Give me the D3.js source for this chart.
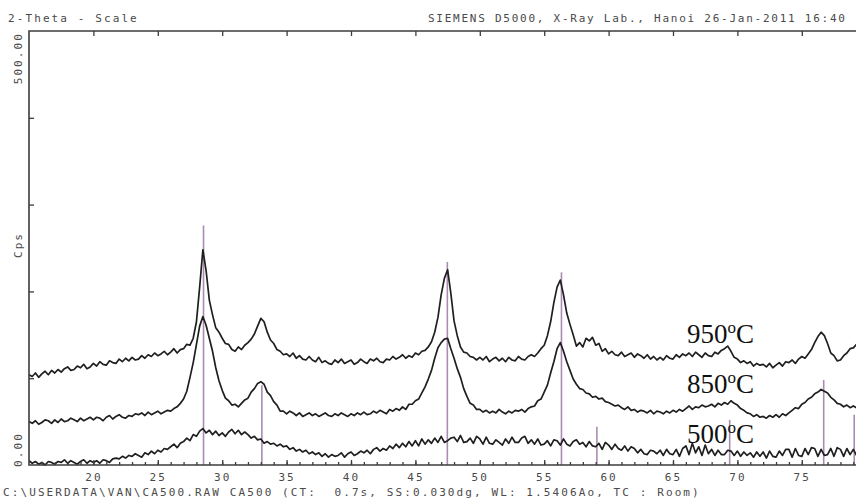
<!DOCTYPE html>
<html>
<head>
<meta charset="utf-8">
<script src="https://cdn.jsdelivr.net/npm/d3@7"></script>
<style>
  body { margin: 0; background: #fff; }
  svg { display: block; }
  .mono { font-family: "DejaVu Sans Mono", monospace; font-size: 11px; letter-spacing: 2.1px; fill: #4a4a4a; }
  .temp { font-family: "Liberation Serif", "Times New Roman", serif; font-size: 27px; fill: #111; }
</style>
</head>
<body>
<div id="container"></div>
<script>
// 2-theta grid of the scan: first angle and step (degrees)
let startAngle = 15;
let stepAngle = 0.25;

// counts per second, one value per step
let cps950 = [
  104, 102, 106, 101, 105, 108, 104, 109, 106, 110, 107, 111, 113, 109, 110, 114,
  112, 116, 111, 113, 117, 114, 119, 116, 115, 120, 118, 117, 122, 119, 123, 120,
  124, 121, 122, 126, 123, 127, 125, 129, 126, 128, 131, 127, 130, 134, 129, 133,
  134, 139, 138, 146, 165, 205, 248, 224, 190, 173, 158, 153, 146, 140, 139, 133,
  131, 136, 133, 138, 141, 145, 151, 160, 169, 165, 153, 144, 140, 133, 131, 127,
  128, 125, 129, 123, 126, 122, 121, 125, 121, 119, 124, 118, 120, 117, 116, 121,
  118, 122, 117, 119, 121, 116, 118, 122, 119, 117, 122, 120, 123, 119, 118, 122,
  121, 125, 122, 124, 127, 123, 126, 124, 129, 127, 131, 132, 136, 142, 153, 170,
  196, 215, 225, 198, 166, 149, 136, 130, 129, 125, 124, 121, 124, 121, 125, 119,
  122, 124, 120, 123, 119, 124, 121, 120, 125, 122, 121, 125, 127, 125, 129, 134,
  138, 149, 165, 187, 205, 213, 196, 175, 162, 150, 137, 141, 136, 146, 143, 147,
  138, 140, 131, 134, 128, 131, 127, 126, 130, 125, 127, 129, 124, 128, 126, 123,
  127, 122, 125, 121, 124, 121, 126, 123, 122, 127, 124, 128, 126, 129, 125, 130,
  127, 124, 129, 126, 125, 130, 128, 132, 134, 137, 131, 124, 122, 118, 120, 117,
  119, 114, 117, 115, 116, 113, 117, 112, 115, 118, 114, 119, 118, 121, 117, 122,
  125, 123, 128, 133, 141, 148, 153, 149, 140, 129, 126, 120, 121, 126, 129, 134,
  135, 139, 137, 141, 140
];

let cps850 = [
  50, 48, 51, 47, 49, 52, 51, 48, 52, 49, 53, 50, 51, 54, 52, 50,
  54, 51, 53, 55, 52, 55, 54, 51, 55, 57, 53, 56, 58, 55, 54, 57,
  56, 59, 58, 60, 57, 61, 58, 60, 62, 59, 61, 63, 62, 65, 67, 71,
  76, 85, 101, 118, 139, 160, 171, 161, 146, 131, 112, 97, 86, 77, 74, 69,
  70, 67, 71, 75, 77, 84, 88, 94, 96, 93, 84, 80, 73, 69, 62, 62,
  59, 62, 60, 57, 60, 56, 58, 60, 57, 59, 56, 58, 60, 57, 56, 59,
  57, 60, 58, 56, 59, 57, 60, 58, 61, 58, 59, 62, 60, 63, 61, 59,
  64, 62, 65, 63, 67, 64, 70, 70, 74, 76, 83, 90, 99, 109, 123, 135,
  141, 145, 146, 134, 123, 111, 101, 88, 79, 71, 69, 64, 64, 61, 63, 60,
  62, 60, 64, 61, 59, 62, 60, 63, 62, 64, 61, 65, 67, 68, 74, 76,
  84, 92, 106, 119, 134, 141, 131, 119, 109, 99, 93, 88, 87, 83, 82, 78,
  79, 76, 77, 73, 72, 70, 68, 69, 66, 64, 67, 63, 64, 61, 63, 62,
  60, 63, 59, 62, 61, 59, 62, 60, 63, 61, 64, 62, 65, 68, 64, 67,
  66, 69, 67, 68, 70, 67, 71, 69, 72, 70, 74, 71, 69, 65, 63, 60,
  59, 56, 58, 55, 56, 54, 57, 55, 58, 55, 59, 57, 60, 63, 66, 65,
  70, 72, 76, 78, 82, 84, 87, 85, 83, 78, 75, 71, 70, 67, 69, 66,
  68, 66, 68, 67, 67
];

let cps500 = [
  5, 2, 4, 1, 3, 0, 4, 3, 1, 4, 3, 6, 2, 5, 3, 1,
  4, 6, 2, 5, 3, 5, 2, 6, 5, 3, 7, 8, 7, 10, 8, 11,
  10, 13, 11, 9, 14, 12, 16, 13, 17, 15, 19, 18, 21, 24, 20, 25,
  27, 31, 28, 35, 33, 39, 42, 37, 40, 35, 39, 34, 37, 33, 38, 41,
  36, 40, 35, 38, 35, 31, 33, 29, 30, 25, 27, 24, 25, 22, 24, 21,
  22, 18, 20, 16, 18, 15, 17, 13, 15, 12, 14, 10, 13, 9, 12, 10,
  11, 14, 9, 13, 15, 11, 13, 16, 14, 17, 13, 18, 20, 16, 19, 17,
  22, 19, 24, 20, 25, 21, 27, 22, 28, 22, 30, 24, 29, 25, 31, 26,
  33, 26, 28, 31, 32, 27, 34, 26, 27, 31, 25, 33, 30, 24, 32, 25,
  24, 29, 26, 23, 30, 25, 32, 26, 26, 31, 33, 25, 29, 24, 30, 23,
  24, 28, 22, 29, 28, 23, 30, 24, 22, 27, 29, 24, 26, 21, 27, 22,
  21, 25, 18, 26, 23, 18, 24, 19, 17, 22, 16, 21, 19, 14, 18, 13,
  12, 17, 16, 13, 17, 11, 18, 13, 12, 18, 10, 19, 22, 12, 25, 14,
  21, 11, 23, 13, 18, 11, 17, 12, 12, 17, 16, 11, 16, 10, 15, 11,
  14, 9, 15, 10, 15, 8, 16, 10, 9, 16, 11, 18, 18, 9, 19, 11,
  10, 19, 12, 20, 19, 10, 18, 11, 12, 19, 10, 20, 18, 10, 19, 12,
  18, 11, 19, 13, 15
];

// reference pattern sticks (2-theta, cps)
let refAngles = [28.55, 33.08, 47.48, 56.34, 59.09, 69.4, 76.7, 79.07];
let refCps = [276, 92, 234, 222, 44, 52, 98, 58];

let xTickValues = [20, 25, 30, 35, 40, 45, 50, 55, 60, 65, 70, 75];
let yTickValues = [100, 200, 300, 400];
let seriesNames = ["950", "850", "500"];
let labelCps = [140, 83, 25];

let w = 856;
let h = 501;
let plotLeft = 29;
let plotTop = 31;
let plotBottom = 465;

let viz = d3.select("#container")
  .append("svg")
    .attr("width", w)
    .attr("height", h)
;

let xScale = d3.scaleLinear().domain([15, 80]).range([plotLeft, plotLeft + 65 * 12.88]);
let yScale = d3.scaleLinear().domain([0, 500]).range([plotBottom, plotTop]);

function toPoints(values){
  return values.map(function(v, i){
    return { angle: startAngle + i * stepAngle, cps: v };
  });
}

// reference sticks
viz.append("g").selectAll("line").data(refAngles).enter()
  .append("line")
    .attr("x1", function(d){ return xScale(d); })
    .attr("x2", function(d){ return xScale(d); })
    .attr("y1", yScale(0))
    .attr("y2", function(d, i){ return yScale(refCps[i]); })
    .attr("stroke", "#ab8cb1")
    .attr("stroke-width", 1.6)
;

let lineMaker = d3.line()
  .x(function(d){ return xScale(d.angle); })
  .y(function(d){ return yScale(d.cps); })
;

viz.append("g").selectAll("path").data([cps950, cps850, cps500]).enter()
  .append("path")
    .attr("d", function(d){ return lineMaker(toPoints(d)); })
    .attr("fill", "none")
    .attr("stroke", "#1f1f1f")
    .attr("stroke-width", 1.7)
    .attr("stroke-linejoin", "round")
;

// frame
let frameColor = "#3c3c3c";
viz.append("path")
  .attr("d", "M" + w + "," + plotTop + "H" + plotLeft + "V" + plotBottom + "H" + w)
  .attr("fill", "none")
  .attr("stroke", frameColor)
  .attr("stroke-width", 1.6)
;

function cleanAxis(g){
  g.select(".domain").remove();
  g.selectAll(".tick line").attr("stroke", frameColor).attr("stroke-width", 1.3);
}

// ticks on the top border
viz.append("g")
  .attr("transform", "translate(0," + plotTop + ")")
  .call(d3.axisBottom(xScale).tickValues(xTickValues).tickSize(5).tickFormat(""))
  .call(cleanAxis)
;

// minor and major ticks on the bottom border
viz.append("g")
  .attr("transform", "translate(0," + plotBottom + ")")
  .call(d3.axisTop(xScale).tickValues(d3.range(16, 80, 1)).tickSize(3).tickFormat(""))
  .call(cleanAxis)
;
viz.append("g")
  .attr("transform", "translate(0," + plotBottom + ")")
  .call(d3.axisTop(xScale).tickValues(xTickValues).tickSize(5).tickFormat(""))
  .call(cleanAxis)
;

// x tick labels
let xLabels = viz.append("g")
  .attr("transform", "translate(0," + plotBottom + ")")
  .call(d3.axisBottom(xScale).tickValues(xTickValues).tickSize(0).tickPadding(8))
;
xLabels.select(".domain").remove();
xLabels.attr("font-family", null).attr("font-size", null);
xLabels.selectAll("text")
  .attr("class", "mono")
  .attr("fill", null)
;

// y ticks
viz.append("g")
  .attr("transform", "translate(" + plotLeft + ",0)")
  .call(d3.axisRight(yScale).tickValues(yTickValues).tickSize(5).tickFormat(""))
  .call(cleanAxis)
;

// rotated y labels
viz.append("text").attr("class", "mono")
  .attr("transform", "translate(22," + (plotTop + 1) + ") rotate(-90)")
  .attr("text-anchor", "end")
  .text("500.00");
viz.append("text").attr("class", "mono")
  .attr("transform", "translate(22," + (plotBottom + 2) + ") rotate(-90)")
  .attr("text-anchor", "start")
  .text("0.00");
viz.append("text").attr("class", "mono")
  .attr("transform", "translate(22,245) rotate(-90)")
  .attr("text-anchor", "middle")
  .text("Cps");

// header and footer
viz.append("text").attr("class", "mono").attr("x", 8).attr("y", 22).text("2-Theta - Scale");
viz.append("text").attr("class", "mono").attr("x", 428).attr("y", 22)
  .style("letter-spacing", "1.75px")
  .text("SIEMENS D5000, X-Ray Lab., Hanoi 26-Jan-2011 16:40");
viz.append("text").attr("class", "mono").attr("x", 3).attr("y", 496)
  .style("white-space", "pre")
  .text("C:\\USERDATA\\VAN\\CA500.RAW CA500 (CT:  0.7s, SS:0.030dg, WL: 1.5406Ao, TC : Room)");

// temperature labels
let temps = viz.append("g").selectAll("text").data(seriesNames).enter()
  .append("text")
    .attr("class", "temp")
    .attr("x", 687)
    .attr("y", function(d, i){ return yScale(labelCps[i]); })
;
temps.append("tspan").text(function(d){ return d; });
temps.append("tspan").attr("font-size", "17px").attr("dy", -10).text("o");
temps.append("tspan").attr("dy", 10).text("C");
</script>
</body>
</html>
